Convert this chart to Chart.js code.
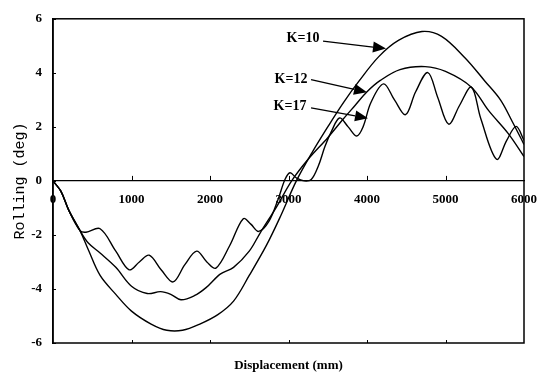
<!DOCTYPE html>
<html>
<head>
<meta charset="utf-8">
<script src="https://cdn.jsdelivr.net/npm/chart.js@4.4.1/dist/chart.umd.min.js"></script>
<style>
html,body{margin:0;padding:0;background:#fff;}
#wrap{width:549px;height:380px;}
</style>
</head>
<body>
<div id="wrap"><canvas id="c" width="549" height="380"></canvas></div>
<script>
// ---- data ----
const xTicks = [0, 1000, 2000, 3000, 4000, 5000, 6000];
const yTicks = [-6, -4, -2, 0, 2, 4, 6];
const seriesNames = ['K=10', 'K=12', 'K=17'];

const k10X = [0, 100, 200, 344, 450, 600, 800, 1000, 1250, 1450, 1650, 1870, 2100, 2300, 2500, 2720, 2900, 3100, 3300, 3500, 3700, 3900, 4150, 4400, 4700, 4950, 5250, 5500, 5700, 5850, 6000];
const k10Y = [0, -0.38, -1.08, -1.84, -2.55, -3.5, -4.2, -4.82, -5.3, -5.53, -5.53, -5.3, -4.95, -4.45, -3.5, -2.38, -1.3, 0.0, 1.05, 2.0, 2.9, 3.7, 4.6, 5.2, 5.53, 5.35, 4.55, 3.7, 3.0, 2.2, 1.35];

const k12X = [0, 100, 200, 344, 450, 600, 800, 1000, 1200, 1370, 1500, 1630, 1800, 1950, 2130, 2300, 2500, 2640, 2850, 3040, 3250, 3500, 3700, 3850, 4000, 4170, 4420, 4740, 5000, 5330, 5550, 5800, 6000];
const k12Y = [0, -0.38, -1.08, -1.84, -2.3, -2.67, -3.2, -3.9, -4.17, -4.1, -4.2, -4.4, -4.25, -3.95, -3.45, -3.2, -2.6, -1.92, -0.95, 0.0, 0.8, 1.6, 2.3, 2.8, 3.3, 3.72, 4.12, 4.23, 4.05, 3.47, 2.6, 1.75, 0.9];

const k17X = [0, 100, 200, 344, 420, 600, 800, 970, 1100, 1225, 1380, 1530, 1680, 1830, 1960, 2075, 2250, 2424, 2520, 2620, 2750, 2870, 2955, 3019, 3104, 3200, 3290, 3380, 3464, 3550, 3650, 3760, 3870, 3950, 4050, 4210, 4350, 4490, 4620, 4775, 4900, 5040, 5180, 5330, 5450, 5650, 5780, 5900, 6000];
const k17Y = [0, -0.38, -1.08, -1.84, -1.9, -1.77, -2.6, -3.29, -3.0, -2.75, -3.3, -3.74, -3.1, -2.6, -3.0, -3.23, -2.4, -1.4, -1.6, -1.87, -1.5, -0.66, 0.05, 0.3, 0.1, 0.0, 0.05, 0.55, 1.27, 1.85, 2.33, 2.0, 1.66, 2.0, 2.9, 3.59, 3.0, 2.45, 3.3, 4.01, 3.1, 2.1, 2.8, 3.47, 2.3, 0.8, 1.5, 2.02, 1.5];

// annotation anchors (data units): text position, arrow start, arrow tip
const annotations = [
  {text: seriesNames[0], at: [3185, 5.28], from: [3440, 5.17], to: [4242, 4.9]},
  {text: seriesNames[1], at: [3032, 3.75], from: [3287, 3.75], to: [4000, 3.28]},
  {text: seriesNames[2], at: [3019, 2.74], from: [3287, 2.70], to: [4013, 2.32]}
];

function pts(xs, ys) { return xs.map((x, i) => ({x: x, y: ys[i]})); }

const INK = '#000';
const tickFont = {family: "'Liberation Serif', 'Times New Roman', serif", size: 13, weight: 'bold'};

const framePlugin = {
  id: 'frame',
  afterDatasetsDraw(chart) {
    const {ctx, chartArea: a, scales} = chart;
    const xs = scales.x, ys = scales.y;
    ctx.save();
    ctx.strokeStyle = INK;
    ctx.lineWidth = 1.5;
    ctx.strokeRect(a.left, a.top, a.right - a.left, a.bottom - a.top);
    // small tick marks
    ctx.lineWidth = 1;
    const y0 = ys.getPixelForValue(0);
    xTicks.forEach(v => {
      if (v === xTicks[0] || v === xTicks[xTicks.length - 1]) return;
      const px = Math.round(xs.getPixelForValue(v)) + 0.5;
      ctx.beginPath(); ctx.moveTo(px, y0); ctx.lineTo(px, y0 - 5); ctx.stroke();
      ctx.beginPath(); ctx.moveTo(px, a.bottom); ctx.lineTo(px, a.bottom - 3); ctx.stroke();
    });
    yTicks.forEach(v => {
      const py = Math.round(ys.getPixelForValue(v)) + 0.5;
      ctx.beginPath(); ctx.moveTo(a.left, py); ctx.lineTo(a.left + 3, py); ctx.stroke();
    });
    // annotations
    ctx.fillStyle = INK;
    ctx.font = "bold 14px 'Liberation Serif', 'Times New Roman', serif";
    ctx.textAlign = 'center';
    ctx.textBaseline = 'middle';
    annotations.forEach(an => {
      const tx = xs.getPixelForValue(an.at[0]), ty = ys.getPixelForValue(an.at[1]);
      ctx.fillText(an.text, tx, ty);
      const x1 = xs.getPixelForValue(an.from[0]), y1 = ys.getPixelForValue(an.from[1]);
      const x2 = xs.getPixelForValue(an.to[0]), y2 = ys.getPixelForValue(an.to[1]);
      const ang = Math.atan2(y2 - y1, x2 - x1);
      const hl = 13, hw = 5.5;
      const bx = x2 - hl * Math.cos(ang), by = y2 - hl * Math.sin(ang);
      ctx.lineWidth = 1.3;
      ctx.beginPath(); ctx.moveTo(x1, y1); ctx.lineTo(bx, by); ctx.stroke();
      ctx.beginPath();
      ctx.moveTo(x2, y2);
      ctx.lineTo(bx - hw * Math.sin(ang), by + hw * Math.cos(ang));
      ctx.lineTo(bx + hw * Math.sin(ang), by - hw * Math.cos(ang));
      ctx.closePath(); ctx.fill();
    });
    ctx.restore();
  }
};

const lineStyle = {
  borderColor: INK, borderWidth: 1.4, pointRadius: 0, fill: false,
  tension: 0.35, xAxisID: 'x', yAxisID: 'y'
};

new Chart(document.getElementById('c'), {
  type: 'line',
  data: {
    datasets: [
      Object.assign({label: seriesNames[0], data: pts(k10X, k10Y)}, lineStyle),
      Object.assign({label: seriesNames[1], data: pts(k12X, k12Y)}, lineStyle),
      Object.assign({label: seriesNames[2], data: pts(k17X, k17Y)}, lineStyle)
    ]
  },
  options: {
    responsive: false,
    animation: false,
    devicePixelRatio: 1,
    layout: {padding: {top: 12, right: 25, bottom: 0, left: 0}},
    plugins: {legend: {display: false}, tooltip: {enabled: false}, title: {display: false}},
    scales: {
      x: {
        type: 'linear', min: 0, max: 6000,
        position: {y: 0},
        afterBuildTicks: s => { s.ticks = xTicks.map(v => ({value: v})); },
        ticks: {font: tickFont, color: INK, padding: 11, maxRotation: 0, autoSkip: false, callback: v => String(v)},
        grid: {display: false, drawTicks: false},
        border: {display: true, color: INK, width: 1.2}
      },
      x2: {
        type: 'linear', min: 0, max: 6000, position: 'bottom',
        ticks: {display: false},
        grid: {display: false, drawTicks: false},
        border: {display: false},
        title: {display: true, text: 'Displacement (mm)', color: INK,
                font: {family: "'Liberation Serif', 'Times New Roman', serif", size: 13, weight: 'bold'},
                padding: {top: 0, bottom: 7}},
        afterFit: s => { s.height = 37; }
      },
      y: {
        type: 'linear', min: -6, max: 6, position: 'left',
        afterBuildTicks: s => { s.ticks = yTicks.map(v => ({value: v})); },
        ticks: {font: tickFont, color: INK, padding: 11, callback: v => String(v)},
        grid: {display: false, drawTicks: false},
        border: {display: true, color: INK, width: 1.5},
        title: {display: true, text: 'Rolling (deg)', color: INK,
                font: {family: "'Liberation Mono', 'Courier New', monospace", size: 15},
                padding: {top: 11, bottom: 0}},
        afterFit: s => { s.width = 53; }
      }
    }
  },
  plugins: [framePlugin]
});
</script>
</body>
</html>
